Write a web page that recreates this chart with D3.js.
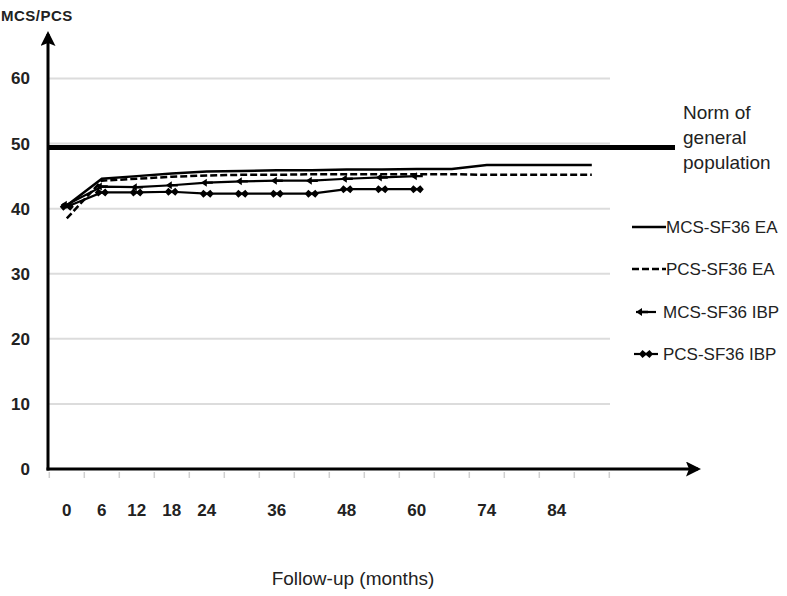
<!DOCTYPE html>
<html>
<head>
    <title>MCS/PCS follow-up</title>
    <script src="https://d3js.org/d3.v7.min.js"></script>
    <style>
        body { margin: 0; background: #fff; }
        text { font-family: "Liberation Sans Narrow", "Liberation Sans", Arial, sans-serif; fill: #222; }
    </style>
</head>
<body>
    <div id="chart"></div>
    <script>
        // follow-up months (one category each), only some are labelled
        const months = [0, 6, 12, 18, 24, 30, 36, 42, 48, 54, 60, 66, 72, 78, 84, 90];
        const tickLabels = ["0", "6", "12", "18", "24", "", "36", "", "48", "", "60", "", "74", "", "84", ""];
        const yTicks = [0, 10, 20, 30, 40, 50, 60];

        const mcsEA  = [40.5, 44.6, 45.0, 45.4, 45.7, 45.8, 45.9, 45.9, 46.0, 46.0, 46.1, 46.1, 46.7, 46.7, 46.7, 46.7];
        const pcsEA  = [38.5, 44.3, 44.6, 44.9, 45.1, 45.2, 45.2, 45.3, 45.3, 45.3, 45.3, 45.3, 45.2, 45.2, 45.2, 45.2];
        const mcsIBP = [40.6, 43.4, 43.3, 43.6, 44.0, 44.2, 44.3, 44.3, 44.6, 44.8, 45.0];
        const pcsIBP = [40.3, 42.5, 42.5, 42.6, 42.3, 42.3, 42.3, 42.3, 43.0, 43.0, 43.0];
        const normValue = 49.4;

        const legendNames = ["MCS-SF36 EA", "PCS-SF36 EA", "MCS-SF36 IBP", "PCS-SF36 IBP"];

        const W = 787, H = 596;
        const svg = d3.select("#chart").append("svg")
            .attr("width", W).attr("height", H);

        const x = d3.scaleBand().domain(months).range([49.3, 609.3]);
        const y = d3.scaleLinear().domain([0, 60]).range([469, 78.5]);
        const cx = m => x(m) + x.bandwidth() / 2;

        // gridlines
        svg.append("g").selectAll("line")
            .data(yTicks.slice(1))
            .enter().append("line")
            .attr("x1", 48).attr("x2", 610)
            .attr("y1", d => y(d)).attr("y2", d => y(d))
            .attr("stroke", "#dcdcdc").attr("stroke-width", 2);

        // y axis labels
        const yAxis = svg.append("g")
            .attr("transform", "translate(48,0)")
            .call(d3.axisLeft(y).tickValues(yTicks).tickSize(0).tickPadding(18));
        yAxis.select(".domain").remove();
        yAxis.selectAll("text")
            .style("font-family", "'Liberation Sans Narrow', 'Liberation Sans', Arial, sans-serif")
            .style("font-size", "17px").style("font-weight", "bold").attr("fill", "#222");

        // x axis labels + small ticks
        const xAxis = svg.append("g")
            .attr("transform", "translate(0,469)")
            .call(d3.axisBottom(x).tickFormat((d, i) => tickLabels[i]).tickSize(0).tickPadding(35));
        xAxis.select(".domain").remove();
        xAxis.selectAll("text")
            .style("font-family", "'Liberation Sans Narrow', 'Liberation Sans', Arial, sans-serif")
            .style("font-size", "17px").style("font-weight", "bold").attr("fill", "#222");
        xAxis.append("g").selectAll("line")
            .data(months.concat(["end"]))
            .enter().append("line")
            .attr("x1", (d, i) => 49.3 + i * x.bandwidth())
            .attr("x2", (d, i) => 49.3 + i * x.bandwidth())
            .attr("y1", 3).attr("y2", 9)
            .attr("stroke", "#d0d0d0").attr("stroke-width", 1.5);

        // norm line
        svg.append("line")
            .attr("x1", 48).attr("x2", 675)
            .attr("y1", y(normValue)).attr("y2", y(normValue))
            .attr("stroke", "#000").attr("stroke-width", 5);

        svg.append("text")
            .attr("x", 683).attr("y", 119)
            .style("font-size", "19px")
            .selectAll("tspan")
            .data(["Norm of", "general", "population"])
            .enter().append("tspan")
            .attr("x", 683).attr("dy", (d, i) => i === 0 ? 0 : 25)
            .text(d => d);

        // axes with arrows
        svg.append("defs").append("marker")
            .attr("id", "arrow").attr("viewBox", "0 0 10 10")
            .attr("refX", 8).attr("refY", 5)
            .attr("markerWidth", 5).attr("markerHeight", 5)
            .attr("orient", "auto")
            .append("path").attr("d", "M0,0 L10,5 L0,10 L2,5 Z").attr("fill", "#000");

        svg.append("line")
            .attr("x1", 48).attr("y1", 470.5).attr("x2", 48).attr("y2", 34)
            .attr("stroke", "#000").attr("stroke-width", 3).attr("marker-end", "url(#arrow)");
        svg.append("line")
            .attr("x1", 46.5).attr("y1", 469).attr("x2", 698).attr("y2", 469)
            .attr("stroke", "#000").attr("stroke-width", 3).attr("marker-end", "url(#arrow)");

        // series
        const line = d3.line().x((d, i) => cx(months[i])).y(d => y(d));

        svg.append("path").datum(pcsIBP)
            .attr("d", line).attr("fill", "none")
            .attr("stroke", "#000").attr("stroke-width", 2.2);
        svg.append("path").datum(mcsIBP)
            .attr("d", line).attr("fill", "none")
            .attr("stroke", "#000").attr("stroke-width", 2.2);
        svg.append("path").datum(pcsEA)
            .attr("d", line).attr("fill", "none")
            .attr("stroke", "#000").attr("stroke-width", 2.5)
            .attr("stroke-dasharray", "7,3");
        svg.append("path").datum(mcsEA)
            .attr("d", line).attr("fill", "none")
            .attr("stroke", "#000").attr("stroke-width", 2.5);

        const arrowMark = "M-6,0 L0,-4 L0,-1.2 L6,-1.2 L6,1.2 L0,1.2 L0,4 Z";
        const diamondMark = "M-7,0 L-3.5,-4 L0,-1 L3.5,-4 L7,0 L3.5,4 L0,1 L-3.5,4 Z";

        svg.append("g").selectAll("path")
            .data(mcsIBP)
            .enter().append("path")
            .attr("transform", (d, i) => `translate(${cx(months[i])},${y(d)})`)
            .attr("d", arrowMark).attr("fill", "#000");
        svg.append("g").selectAll("path")
            .data(pcsIBP)
            .enter().append("path")
            .attr("transform", (d, i) => `translate(${cx(months[i])},${y(d)})`)
            .attr("d", diamondMark).attr("fill", "#000");

        // legend
        const legendY = [227, 269, 312, 354];
        const lg = svg.append("g");
        legendNames.forEach((name, i) => {
            const ly = legendY[i];
            if (i === 0) {
                lg.append("line").attr("x1", 632).attr("x2", 666).attr("y1", ly).attr("y2", ly)
                    .attr("stroke", "#000").attr("stroke-width", 2.5);
            } else if (i === 1) {
                lg.append("line").attr("x1", 632).attr("x2", 666).attr("y1", ly).attr("y2", ly)
                    .attr("stroke", "#000").attr("stroke-width", 2.5).attr("stroke-dasharray", "7,3");
            } else if (i === 2) {
                lg.append("line").attr("x1", 636).attr("x2", 656).attr("y1", ly).attr("y2", ly)
                    .attr("stroke", "#000").attr("stroke-width", 2.2);
                lg.append("path").attr("transform", `translate(642,${ly})`).attr("d", arrowMark).attr("fill", "#000");
            } else {
                lg.append("line").attr("x1", 634).attr("x2", 658).attr("y1", ly).attr("y2", ly)
                    .attr("stroke", "#000").attr("stroke-width", 2.2);
                lg.append("path").attr("transform", `translate(646,${ly})`).attr("d", diamondMark).attr("fill", "#000");
            }
            lg.append("text")
                .attr("x", i < 2 ? 666 : 663).attr("y", ly + 6)
                .style("font-size", "17px")
                .text(name);
        });

        // axis titles
        svg.append("text")
            .attr("x", 1).attr("y", 21)
            .style("font-size", "15px").style("font-weight", "bold")
            .style("letter-spacing", "0.5px")
            .text("MCS/PCS");
        svg.append("text")
            .attr("x", 353).attr("y", 585)
            .attr("text-anchor", "middle")
            .style("font-size", "19px")
            .text("Follow-up (months)");
    </script>
</body>
</html>
